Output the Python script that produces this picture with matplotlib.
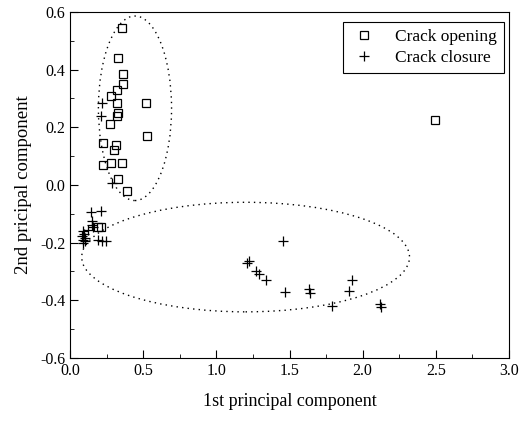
import matplotlib
matplotlib.use("Agg")
import matplotlib.pyplot as plt
from matplotlib.patches import Ellipse
from matplotlib.ticker import MultipleLocator, FormatStrFormatter

plt.rcParams['font.family'] = ['Liberation Serif', 'DejaVu Serif']

# crack opening (squares)
open_x = [0.355, 0.328, 0.362, 0.362, 0.321, 0.280, 0.321, 0.519, 0.328, 0.321,
          0.273, 0.526, 0.226, 0.314, 0.301, 0.226, 0.280, 0.355, 0.328, 0.390,
          0.191, 0.212, 2.495]
open_y = [0.545, 0.441, 0.386, 0.352, 0.328, 0.307, 0.286, 0.283, 0.248, 0.238,
          0.210, 0.169, 0.145, 0.138, 0.121, 0.069, 0.076, 0.076, 0.021, -0.021,
          -0.145, -0.145, 0.224]

# crack closure (crosses)
close_x = [0.219, 0.212, 0.287, 0.144, 0.212, 0.150, 0.150, 0.089, 0.123, 0.157,
           0.103, 0.089, 0.103, 0.089, 0.082, 0.191, 0.219, 0.246, 0.096,
           1.456, 1.220, 1.210, 1.270, 1.290, 1.340, 1.470, 1.630, 1.640, 1.910,
           1.930, 1.790, 2.120, 2.125]
close_y = [0.286, 0.241, 0.007, -0.093, -0.090, -0.124, -0.138, -0.159, -0.155, -0.145,
           -0.183, -0.190, -0.193, -0.200, -0.176, -0.190, -0.193, -0.193, -0.169,
           -0.193, -0.262, -0.272, -0.297, -0.307, -0.328, -0.372, -0.362, -0.376, -0.366,
           -0.328, -0.421, -0.414, -0.424]

fig = plt.figure(figsize=(5.28, 4.24), dpi=100)
ax = fig.add_axes([0.1326, 0.1557, 0.8314, 0.816])

ax.plot(open_x, open_y, linestyle='none', marker='s', markersize=6,
        markerfacecolor='none', markeredgecolor='black', markeredgewidth=0.9,
        label='Crack opening')
ax.plot(close_x, close_y, linestyle='none', marker='+', markersize=7,
        color='black', markeredgewidth=0.9, label='Crack closure')

# dotted ellipses around the two groups
for cx, cy, w, h in [(0.444, 0.266, 0.50, 0.64), (1.20, -0.25, 2.24, 0.38)]:
    ax.add_patch(Ellipse((cx, cy), w, h, fill=False, edgecolor='black',
                         linewidth=1.0, linestyle=(0, (1, 3))))

ax.set_xlim(0, 3.0)
ax.set_ylim(-0.6, 0.6)
ax.xaxis.set_major_locator(MultipleLocator(0.5))
ax.xaxis.set_minor_locator(MultipleLocator(0.25))
ax.yaxis.set_major_locator(MultipleLocator(0.2))
ax.yaxis.set_minor_locator(MultipleLocator(0.1))
ax.tick_params(which='both', direction='in', labelsize=11.5)
ax.tick_params(which='major', length=6)
ax.tick_params(which='minor', length=3)
ax.xaxis.set_major_formatter(FormatStrFormatter('%.1f'))
ax.yaxis.set_major_formatter(FormatStrFormatter('%.1f'))

ax.set_xlabel('1st principal component', fontsize=13, labelpad=10)
ax.set_ylabel('2nd pricipal component', fontsize=13.5, labelpad=6)

leg = ax.legend(loc='upper right', fontsize=12.5, fancybox=False, framealpha=1,
                edgecolor='black', handletextpad=1.0, borderpad=0.4,
                labelspacing=0.25, handlelength=1.6,
                borderaxespad=0.2, bbox_to_anchor=(0.997, 0.98))
leg.get_frame().set_linewidth(0.8)

fig.savefig('out.png', dpi=100)
